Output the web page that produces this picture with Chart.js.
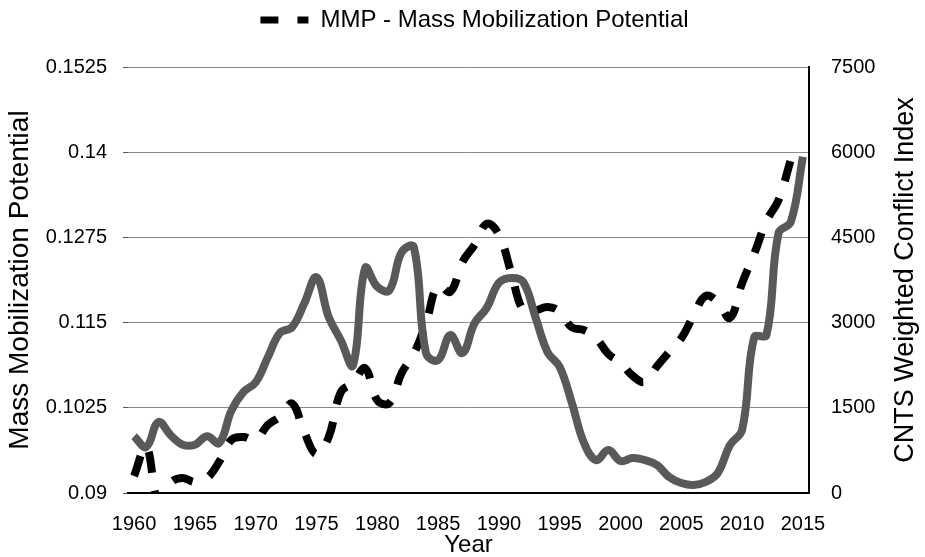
<!DOCTYPE html>
<html>
<head>
<meta charset="utf-8">
<script src="https://cdn.jsdelivr.net/npm/chart.js@4.4.0/dist/chart.umd.min.js"></script>
<style>
  html, body { margin: 0; padding: 0; background: #fff; }
  #contenedor { width: 925px; height: 557px; }
</style>
</head>
<body>
<div id="contenedor"><canvas id="miGrafica" width="925" height="557"></canvas></div>
<script>
// Años (categorías del eje X)
const anios = [1960, 1961, 1962, 1963, 1964, 1965, 1966, 1967, 1968, 1969,
               1970, 1971, 1972, 1973, 1974, 1975, 1976, 1977, 1978, 1979,
               1980, 1981, 1982, 1983, 1984, 1985, 1986, 1987, 1988, 1989,
               1990, 1991, 1992, 1993, 1994, 1995, 1996, 1997, 1998, 1999,
               2000, 2001, 2002, 2003, 2004, 2005, 2006, 2007, 2008, 2009,
               2010, 2011, 2012, 2013, 2014, 2015];

// MMP - Mass Mobilization Potential (eje izquierdo)
const mmp = [0.0925, 0.0968, 0.0887, 0.0915, 0.0922, 0.0916, 0.0922, 0.0946, 0.0978, 0.0982,
             0.0978, 0.1000, 0.1012, 0.1031, 0.0989, 0.0957, 0.0982, 0.1048, 0.1062, 0.1083,
             0.1036, 0.1032, 0.1076, 0.1104, 0.1149, 0.1205, 0.1195, 0.1239, 0.1264, 0.1295,
             0.1279, 0.1224, 0.1168, 0.1168, 0.1173, 0.1166, 0.1143, 0.1139, 0.1127, 0.1104,
             0.1091, 0.1072, 0.1063, 0.1086, 0.1107, 0.1127, 0.1160, 0.1189, 0.1180, 0.1157,
             0.1208, 0.1251, 0.1299, 0.1330, 0.1389, null];

// CNTS Weighted Conflict Index (eje derecho)
const cnts = [1000, 810, 1250, 1020, 850, 850, 1000, 880, 1450, 1780,
              1950, 2390, 2820, 2920, 3340, 3800, 3100, 2690, 2250, 3960,
              3630, 3570, 4240, 4330, 2465, 2340, 2780, 2465, 2990, 3260,
              3700, 3785, 3715, 3100, 2480, 2220, 1585, 880, 580, 757,
              563, 616, 580, 493, 282, 176, 141, 194, 352, 845,
              1110, 2746, 2780, 4580, 4770, 5920];

// Etiquetas de los ejes
const ticksIzq = [0.09, 0.1025, 0.115, 0.1275, 0.14, 0.1525];
const ticksDer = [0, 1500, 3000, 4500, 6000, 7500];

const fuente = "'Liberation Sans', Arial, Helvetica, sans-serif";
Chart.defaults.font.family = fuente;
Chart.defaults.color = '#000';

// Ajusta el alto de la leyenda y la centra como en el original
const ajusteLeyenda = {
    id: 'ajusteLeyenda',
    afterInit(chart) {
        const leyenda = chart.legend;
        const fitOriginal = leyenda.fit.bind(leyenda);
        leyenda.fit = function () {
            fitOriginal();
            this.height = 67;
        };
        const drawOriginal = leyenda.draw.bind(leyenda);
        leyenda.draw = function () {
            chart.ctx.save();
            chart.ctx.translate(12, 0);
            drawOriginal();
            chart.ctx.restore();
        };
    }
};

// Título del eje derecho, leído de abajo hacia arriba
const tituloDerecho = {
    id: 'tituloDerecho',
    afterDraw(chart) {
        const { ctx, chartArea } = chart;
        ctx.save();
        ctx.translate(906, (chartArea.top + chartArea.bottom) / 2);
        ctx.rotate(-Math.PI / 2);
        ctx.font = '27px ' + fuente;
        ctx.fillStyle = '#000';
        ctx.textAlign = 'center';
        ctx.textBaseline = 'middle';
        ctx.fillText('CNTS Weighted Conflict Index', 0, 0);
        ctx.restore();
    }
};

const ctx = document.getElementById('miGrafica').getContext('2d');

window.miGrafica = new Chart(ctx, {
    type: 'line',
    data: {
        labels: anios,
        datasets: [{
            label: 'MMP - Mass Mobilization Potential',
            data: mmp,
            yAxisID: 'y',
            borderColor: '#000',
            backgroundColor: '#000',
            borderWidth: 8,
            borderDash: [21, 18],
            borderCapStyle: 'butt',
            tension: 0.4,
            pointRadius: 0,
            order: 2
        }, {
            label: 'CNTS Weighted Conflict Index',
            data: cnts,
            yAxisID: 'y1',
            borderColor: '#595959',
            backgroundColor: '#595959',
            borderWidth: 8,
            borderJoinStyle: 'round',
            tension: 0.4,
            pointRadius: 0,
            order: 1
        }]
    },
    options: {
        responsive: false,
        animation: false,
        devicePixelRatio: 1,
        layout: { padding: 0 },
        plugins: {
            tooltip: { enabled: false },
            legend: {
                position: 'top',
                labels: {
                    usePointStyle: true,
                    pointStyleWidth: 48,
                    padding: 8,
                    color: '#000',
                    font: { size: 24 },
                    filter: item => item.datasetIndex === 0,
                    generateLabels(chart) {
                        const items = Chart.defaults.plugins.legend.labels.generateLabels(chart);
                        items.forEach(it => {
                            it.pointStyle = 'line';
                            it.lineDash = [18, 19];
                            it.lineWidth = 7;
                            it.strokeStyle = '#000';
                        });
                        return items;
                    }
                }
            }
        },
        scales: {
            x: {
                offset: true,
                grid: { display: false },
                border: { display: true, color: '#000', width: 2 },
                ticks: {
                    autoSkip: false,
                    maxRotation: 0,
                    padding: 11,
                    color: '#000',
                    font: { size: 20 },
                    callback: (valor, i) => (anios[i] % 5 === 0 ? String(anios[i]) : null)
                },
                title: { display: true, text: 'Year', color: '#000', font: { size: 24, lineHeight: 1 }, padding: 0 },
                afterFit(escala) { escala.height = 64; }
            },
            y: {
                position: 'left',
                min: 0.09,
                max: 0.1525,
                afterBuildTicks(escala) { escala.ticks = ticksIzq.map(v => ({ value: v })); },
                grid: { color: '#8a8a8a', lineWidth: 1, tickLength: 5, tickColor: '#555' },
                border: { display: false },
                ticks: {
                    padding: 16,
                    color: '#000',
                    font: { size: 20 },
                    callback: v => String(+v.toFixed(4))
                },
                title: {
                    display: true,
                    text: 'Mass Mobilization Potential',
                    color: '#000',
                    font: { size: 28, lineHeight: 1.2 },
                    padding: { top: 3, bottom: 0 }
                },
                afterFit(escala) { escala.width = 128; }
            },
            y1: {
                position: 'right',
                min: 0,
                max: 7500,
                afterBuildTicks(escala) { escala.ticks = ticksDer.map(v => ({ value: v })); },
                grid: { display: false },
                border: { display: true, color: '#000', width: 2 },
                ticks: {
                    padding: 14,
                    color: '#000',
                    font: { size: 20 },
                    callback: v => String(v)
                },
                afterFit(escala) { escala.width = 116; }
            }
        }
    },
    plugins: [ajusteLeyenda, tituloDerecho]
});
</script>
</body>
</html>
